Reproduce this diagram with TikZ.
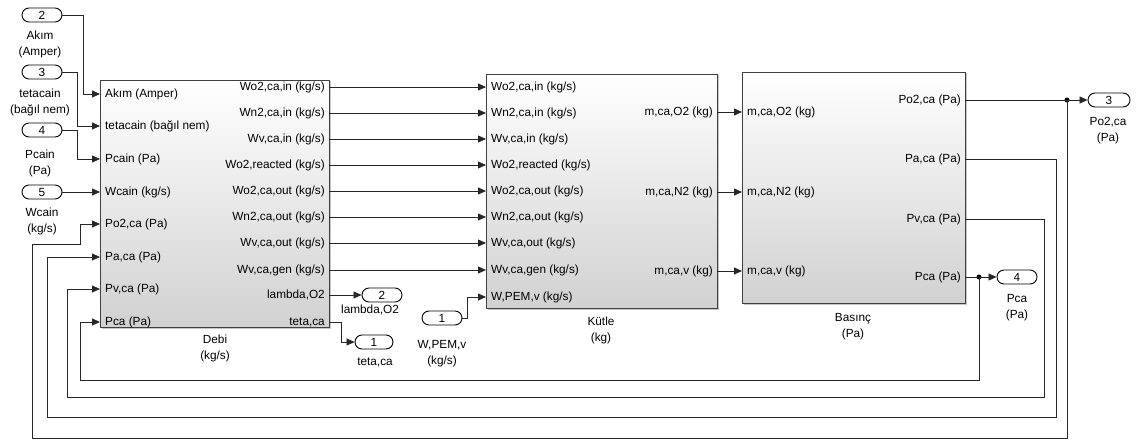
\documentclass[tikz,border=0pt]{standalone}
\usepackage{fontspec}
\setmainfont{Liberation Sans}
\usetikzlibrary{arrows.meta,shadows,shapes.misc}
\begin{document}
\begin{tikzpicture}[x=1pt,y=-1pt,
  font=\fontsize{11.8}{16}\selectfont,
  block/.style={draw=black!75, line width=0.9pt, top color=white, bottom color=black!18,
    drop shadow={shadow xshift=1.5pt, shadow yshift=-1.5pt, opacity=0.45}, inner sep=0pt},
  port/.style={draw=black, line width=0.9pt, rounded rectangle, minimum width=40pt,
    minimum height=14pt, inner sep=0pt, fill=white},
  lab/.style={align=center, inner sep=0pt},
  plab/.style={inner sep=0pt},
  sig/.style={draw=black!85, line width=0.8pt, -{Triangle[length=8pt,width=7pt]}},
  wire/.style={draw=black!85, line width=0.8pt},
  dot/.style={circle, fill=black, inner sep=0pt, minimum size=5pt}]
\useasboundingbox (0,0) rectangle (1148,441);

% Blocks
\node[block, minimum width=229pt, minimum height=247pt] (debi) at (214.5,203.5) {};
\node[block, minimum width=231pt, minimum height=234pt] (kutle) at (601.5,191) {};
\node[block, minimum width=223pt, minimum height=231pt] (basinc) at (853.5,187.5) {};

\node[lab] (debil) at (215,348.5) {Debi\\(kg/s)};
\node[lab] (kutlel) at (601,330) {Kütle\\(kg)};
\node[lab] (basincl) at (853,326.5) {Basınç\\(Pa)};

% Debi inputs
\foreach \y/\t [count=\i] in {94/{Akım (Amper)},126/{tetacain (bağıl nem)},159/{Pcain (Pa)},192/{Wcain (kg/s)},224/{Po2,ca (Pa)},257/{Pa,ca (Pa)},289/{Pv,ca (Pa)},322/{Pca (Pa)}}{
  \coordinate (di\i) at (100,\y);
  \node[plab, anchor=west] (dil\i) at (105,\y) {\t};
}
% Debi outputs
\foreach \y/\t [count=\i] in {87/{Wo2,ca,in (kg/s)},113/{Wn2,ca,in (kg/s)},139/{Wv,ca,in (kg/s)},165/{Wo2,reacted (kg/s)},191/{Wo2,ca,out (kg/s)},217/{Wn2,ca,out (kg/s)},243/{Wv,ca,out (kg/s)},270/{Wv,ca,gen (kg/s)},295/{lambda,O2},322/{teta,ca}}{
  \coordinate (do\i) at (329,\y);
  \node[plab, anchor=east] (dol\i) at (325,\y) {\t};
}
% Kutle inputs
\foreach \y/\t [count=\i] in {87/{Wo2,ca,in (kg/s)},113/{Wn2,ca,in (kg/s)},139/{Wv,ca,in (kg/s)},165/{Wo2,reacted (kg/s)},191/{Wo2,ca,out (kg/s)},217/{Wn2,ca,out (kg/s)},243/{Wv,ca,out (kg/s)},270/{Wv,ca,gen (kg/s)},297/{W,PEM,v (kg/s)}}{
  \coordinate (ki\i) at (486,\y);
  \node[plab, anchor=west] (kil\i) at (491,\y) {\t};
}
% Kutle outputs
\foreach \y/\t [count=\i] in {112/{m,ca,O2 (kg)},192/{m,ca,N2 (kg)},271/{m,ca,v (kg)}}{
  \coordinate (ko\i) at (717,\y);
  \node[plab, anchor=east] (kol\i) at (713,\y) {\t};
}
% Basinc inputs
\foreach \y/\t [count=\i] in {112/{m,ca,O2 (kg)},192/{m,ca,N2 (kg)},271/{m,ca,v (kg)}}{
  \coordinate (bi\i) at (742,\y);
  \node[plab, anchor=west] (bil\i) at (747,\y) {\t};
}
% Basinc outputs
\foreach \y/\t [count=\i] in {100/{Po2,ca (Pa)},159/{Pa,ca (Pa)},219/{Pv,ca (Pa)},277/{Pca (Pa)}}{
  \coordinate (bo\i) at (965,\y);
  \node[plab, anchor=east] (bol\i) at (961,\y) {\t};
}

% Inports (left)
\node[port] (p2) at (42,15) {2};
\node[lab] (p2l) at (40,44.5) {Akım\\(Amper)};
\node[port] (p3) at (42,72) {3};
\node[lab] (p3l) at (40,102.5) {tetacain\\(bağıl nem)};
\node[port] (p4) at (42,130) {4};
\node[lab] (p4l) at (40,163) {Pcain\\(Pa)};
\node[port] (p5) at (42,192) {5};
\node[lab] (p5l) at (42,221) {Wcain\\(kg/s)};

% Middle ports
\node[port] (o2) at (382,295) {2};
\node[lab] (o2l) at (370,310) {lambda,O2};
\node[port, minimum width=38pt] (o1) at (374,342) {1};
\node[lab] (o1l) at (375,362) {teta,ca};
\node[port] (i1) at (442,318) {1};
\node[lab] (i1l) at (442,353.5) {W,PEM,v\\(kg/s)};

% Right outports
\node[port, minimum width=42pt] (o3) at (1109,100) {3};
\node[lab] (o3l) at (1108,131) {Po2,ca\\(Pa)};
\node[port] (o4) at (1017,277) {4};
\node[lab] (o4l) at (1017,308) {Pca\\(Pa)};

% Junctions
\node[dot] (j1) at (1067,100) {};
\node[dot] (j2) at (979,277) {};

% Input wires
\draw[sig] (p2.east) -- (83,15) -- (83,94) -- (di1);
\draw[sig] (p3.east) -- (77,72) -- (77,126) -- (di2);
\draw[sig] (p4.east) -- (77,130) -- (77,159) -- (di3);
\draw[sig] (p5.east) -- (di4);

% Debi -> Kutle
\foreach \i in {1,...,8}{ \draw[sig] (do\i) -- (ki\i); }
\draw[sig] (do9) -- (o2.west);
\draw[sig] (do10) -- (341,322) -- (341,342) -- (o1.west);
\draw[sig] (i1.east) -- (467,318) -- (467,297) -- (ki9);

% Kutle -> Basinc
\foreach \i in {1,2,3}{ \draw[sig] (ko\i) -- (bi\i); }

% Outputs
\draw[wire] (bo1) -- (j1.center);
\draw[sig] (j1.center) -- (o3.west);
\draw[wire] (bo4) -- (j2.center);
\draw[sig] (j2.center) -- (o4.west);

% Feedback
\draw[sig] (j1.center) -- (1067,438) -- (32,438) -- (32,244) -- (80,244) -- (80,224) -- (di5);
\draw[sig] (bo2) -- (1056,159) -- (1056,417) -- (47,417) -- (47,257) -- (di6);
\draw[sig] (bo3) -- (1044,219) -- (1044,397) -- (67,397) -- (67,289) -- (di7);
\draw[sig] (j2.center) -- (979,380) -- (80,380) -- (80,322) -- (di8);
\end{tikzpicture}
\end{document}
